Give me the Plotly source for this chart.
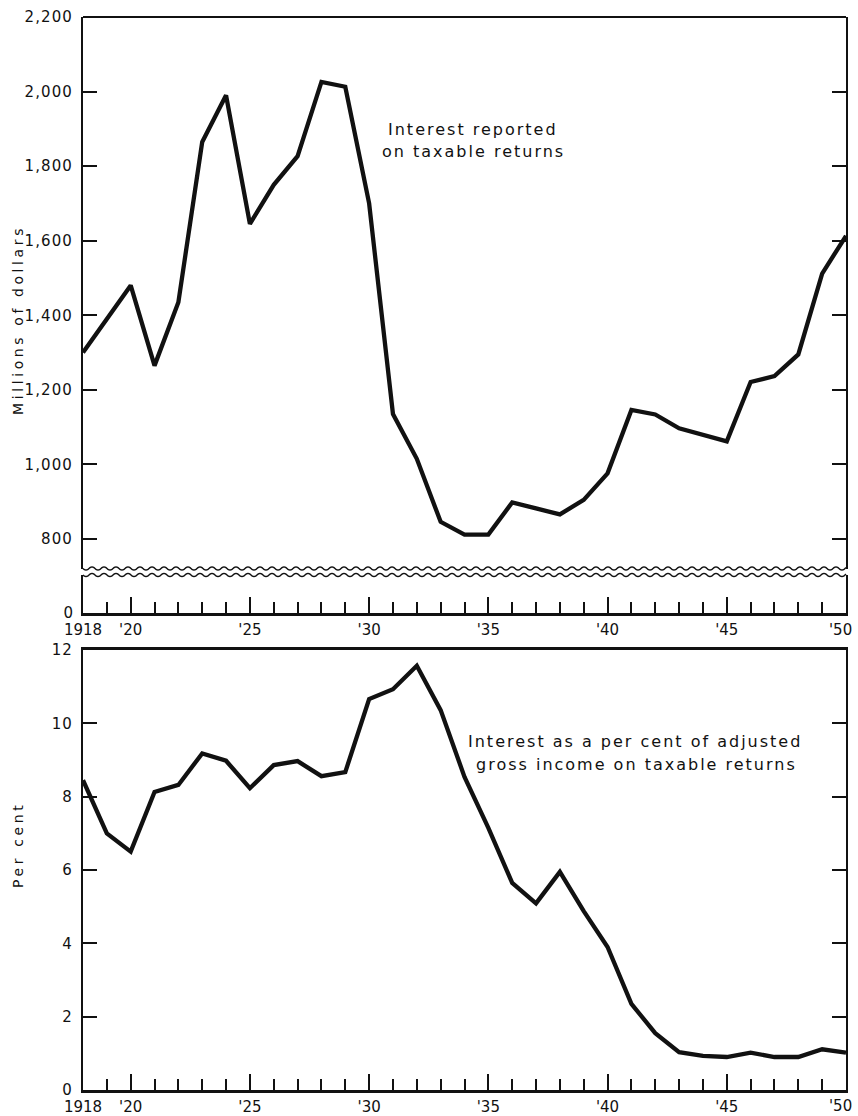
import numpy as np
import plotly.graph_objects as go

# ---------------- data ----------------
years = list(range(1918, 1951))
interest_millions = [1300, 1390, 1480, 1265, 1435, 1865, 1990, 1645, 1750, 1827,
                     2026, 2013, 1700, 1135, 1015, 846, 812, 812, 898, 882,
                     866, 905, 976, 1146, 1134, 1097, 1079, 1062, 1221, 1237,
                     1295, 1512, 1613]
interest_pct = [8.45, 7.0, 6.5, 8.13, 8.32, 9.18, 8.98, 8.23, 8.86, 8.97,
                8.56, 8.67, 10.66, 10.93, 11.57, 10.36, 8.54, 7.15, 5.65, 5.09,
                5.95, 4.88, 3.9, 2.35, 1.55, 1.03, 0.93, 0.9, 1.02, 0.9,
                0.9, 1.11, 1.02]
x_tickvals = [1918, 1920, 1925, 1930, 1935, 1940, 1945, 1950]
x_ticktext = ["1918", "'20", "'25", "'30", "'35", "'40", "'45", "'50"]
top_tickvals = [800, 1000, 1200, 1400, 1600, 1800, 2000, 2200]
top_ticktext = ["800", "1,000", "1,200", "1,400", "1,600", "1,800", "2,000", "2,200"]
bot_tickvals = [0, 2, 4, 6, 8, 10, 12]
bot_ticktext = ["0", "2", "4", "6", "8", "10", "12"]

# ---------------- layout helpers (window pixel -> paper) ----------------
OFF = 0                      # body margin removed by post_script below
FW, FH = 858, 1116           # figure size


def PX(x):
    return (x - OFF) / FW


def PY(y):
    return 1 - (y - OFF) / FH


def sp(t, ls):
    return '<span style="letter-spacing:{}px">{}</span>'.format(ls, t)


L, R = 83, 846
TOP_T, TOP_B = 17, 568.5          # upper panel (broken axis top part)
LOW_T, LOW_B = 575, 613           # small zero segment
BOT_T, BOT_B = 650, 1090          # lower panel

FONT = "DejaVu Sans"
BLACK = "#111111"

fig = go.Figure()
fig.add_trace(go.Scatter(x=years, y=interest_millions, mode="lines",
                         line=dict(color=BLACK, width=4.3), xaxis="x", yaxis="y",
                         showlegend=False, hoverinfo="skip"))
fig.add_trace(go.Scatter(x=[years[0]], y=[0], mode="markers", marker=dict(opacity=0),
                         xaxis="x", yaxis="y3", showlegend=False, hoverinfo="skip"))
fig.add_trace(go.Scatter(x=years, y=interest_pct, mode="lines",
                         line=dict(color=BLACK, width=4.3), xaxis="x2", yaxis="y2",
                         showlegend=False, hoverinfo="skip"))

# the last label ('50) sits at the page edge: drawn as an annotation, shifted left
xcommon = dict(range=[1918, 1950], tickmode="array", tickvals=x_tickvals[:-1],
               ticktext=x_ticktext[:-1], ticks="inside", ticklen=16, tickwidth=2,
               tickcolor=BLACK, showline=True, linewidth=3, linecolor=BLACK,
               showgrid=False, zeroline=False, ticklabelstandoff=1,
               tickfont=dict(family=FONT, size=15, color=BLACK),
               minor=dict(dtick=1, tick0=1918, ticks="inside", ticklen=11,
                          tickwidth=2, tickcolor=BLACK, showgrid=False))

ycommon = dict(ticklen=14, tickwidth=2, tickcolor=BLACK,
               showline=True, linewidth=2, linecolor=BLACK, showgrid=False,
               zeroline=False, tickfont=dict(family=FONT, size=15, color=BLACK),
               ticklabelstandoff=5)

pxu = (539 - 17) / (2200 - 800)   # pixels per million in the upper panel
y_break = 800 - (TOP_B - 539) / pxu
low_max = (LOW_B - LOW_T) / pxu

fig.update_layout(
    width=FW, height=FH,
    margin=dict(l=0, r=0, t=0, b=0, autoexpand=False),
    paper_bgcolor="white", plot_bgcolor="white",
    xaxis=dict(domain=[PX(L), PX(R)], anchor="y3", **xcommon),
    yaxis=dict(domain=[PY(TOP_B), PY(TOP_T)], anchor="x", range=[y_break, 2200],
               tickmode="array", tickvals=top_tickvals,
               ticktext=[sp(t, 1.1) for t in top_ticktext],
               ticks="inside", mirror="ticks", **ycommon),
    yaxis3=dict(domain=[PY(LOW_B), PY(LOW_T)], anchor="x", range=[0, low_max],
                tickmode="array", tickvals=[0], ticktext=["0"], mirror=True,
                ticks="", **ycommon),
    xaxis2=dict(domain=[PX(L), PX(R)], anchor="y2", mirror=True, **xcommon),
    yaxis2=dict(domain=[PY(BOT_B), PY(BOT_T)], anchor="x2", range=[0, 12],
                tickmode="array", tickvals=bot_tickvals,
                ticktext=[sp(t, 1.1) for t in bot_ticktext],
                ticks="inside", mirror="ticks", **ycommon),
)

# top border of upper panel
shapes = [dict(type="line", xref="paper", yref="paper", x0=PX(L), x1=PX(R),
               y0=PY(TOP_T), y1=PY(TOP_T), line=dict(color=BLACK, width=2))]


# wavy break lines
def wave_path(yc, amp=1.6, period=12.0):
    xs = np.arange(L, R + 0.5, 1.0)
    ys = yc + amp * np.sin(2 * np.pi * (xs - L) / period)
    pts = ["M {:.5f},{:.5f}".format(PX(xs[0]), PY(ys[0]))]
    pts += ["L {:.5f},{:.5f}".format(PX(a), PY(b)) for a, b in zip(xs[1:], ys[1:])]
    return " ".join(pts)


for yc in (TOP_B, LOW_T):
    shapes.append(dict(type="path", xref="paper", yref="paper", path=wave_path(yc),
                       line=dict(color=BLACK, width=1.5)))


def ann(text, x, y, size=16, ls=2.0, angle=0):
    return dict(text=sp(text, ls), x=PX(x), y=PY(y), xref="paper", yref="paper",
                showarrow=False, xanchor="center", yanchor="middle", textangle=angle,
                font=dict(family=FONT, size=size, color=BLACK))


annotations = [
    ann("Interest reported", 473, 129),
    ann("on taxable returns", 474, 152),
    ann("Interest as a per cent of adjusted", 635, 741),
    ann("gross income on taxable returns", 636, 764),
    ann("Millions of dollars", 18, 320, size=14, ls=3.6, angle=-90),
    ann("Per cent", 18, 845, size=14, ls=3.6, angle=-90),
]
# last x tick label on each panel
for xr, ylab in (("x", 630), ("x2", 1106)):
    annotations.append(dict(text=x_ticktext[-1], x=x_tickvals[-1], xref=xr,
                            y=PY(ylab), yref="paper", showarrow=False,
                            xanchor="right", yanchor="middle", xshift=8,
                            font=dict(family=FONT, size=15, color=BLACK)))

fig.update_layout(shapes=shapes, annotations=annotations)
fig.write_html("out.html", config={"displayModeBar": False, "staticPlot": True},
               post_script="document.body.style.margin='0';document.documentElement.style.overflow='hidden';")
